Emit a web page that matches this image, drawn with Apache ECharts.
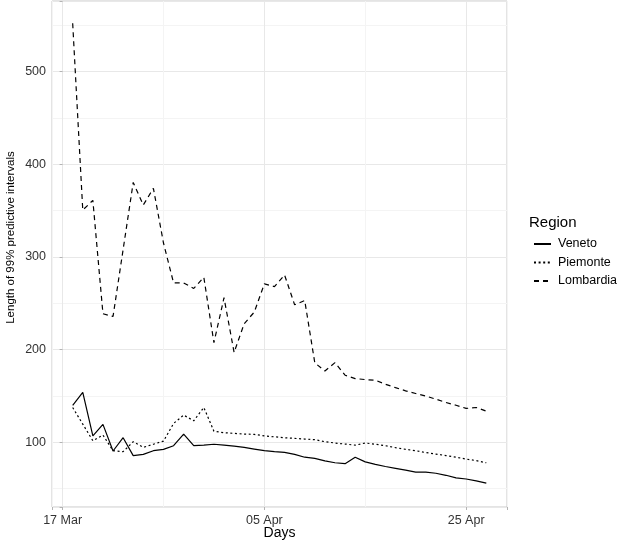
<!DOCTYPE html>
<html>
<head>
<meta charset="utf-8">
<script src="https://cdn.jsdelivr.net/npm/echarts@6/dist/echarts.min.js"></script>
<style>
  html, body { margin: 0; padding: 0; background: #fff; }
  #chart { width: 618px; height: 541px; }
</style>
</head>
<body>
<div id="chart"></div>
<script>
// day index since 16 Mar
const days = [1, 2, 3, 4, 5, 6, 7, 8, 9, 10, 11, 12, 13, 14, 15, 16, 17, 18, 19, 20, 21,
  22, 23, 24, 25, 26, 27, 28, 29, 30, 31, 32, 33, 34, 35, 36, 37, 38, 39, 40, 41, 42];

const veneto = [140, 153.8, 107, 119.4, 90.7, 105, 85.7, 87, 91, 92.5,
  96.4, 109, 96.4, 97, 98, 97, 96, 94.6, 92.8, 91,
  90, 89.2, 87, 84, 82.8, 80, 78, 77, 84, 79,
  76.3, 74, 72, 70, 68, 68, 66.7, 64.5, 61.7, 60.5,
  58.4, 56];

const piemonte = [137.6, 119.7, 101.8, 107.9, 91, 90, 100.7, 94.6, 98, 101.4,
  120.4, 129.4, 123.3, 137.6, 112, 110.4, 109.7, 109, 108.6, 107,
  106, 105, 104.3, 103.6, 102.9, 100.7, 99.3, 98.2, 97, 99.3,
  98, 96.4, 94.3, 92.5, 91, 89, 87.4, 85.7, 84, 82,
  80.3, 78];

const lombardia = [552, 350.5, 361, 238.7, 235.8, 308, 380.3, 356, 374, 315,
  272, 272, 266, 278, 207.5, 256, 197, 228, 240.5, 271,
  268, 280.6, 248.4, 253, 185.7, 177, 186, 172.4, 168.8, 167.7,
  167, 162.7, 159, 155.6, 152.7, 150, 146.6, 143, 140, 136.6,
  137.6, 133.7];

// x tick labels by day index
const xTickLabels = { 0: "17 Mar", 20: "05 Apr", 40: "25 Apr" };
const yTickLabels = [100, 200, 300, 400, 500];

const font = "Liberation Sans, Arial, sans-serif";
const xRange = [-1.05, 44.05];
const yRange = [30.3, 576];

const chart = echarts.init(document.getElementById("chart"));

const pair = (arr) => days.map((d, i) => [d, arr[i]]);

const lineSeries = (name, data, type) => ({
  name: name,
  type: "line",
  data: pair(data),
  symbol: "none",
  lineStyle: { color: "#000", width: 1.2, type: type },
  itemStyle: { color: "#000" },
  emphasis: { disabled: true },
  z: 3
});

// axes that only draw the small grey ticks at the major breaks
const tickOnly = {
  axisLine: { show: false },
  axisLabel: { show: false },
  splitLine: { show: false },
  axisTick: { show: true, length: 3, lineStyle: { color: "#b3b3b3" } }
};

chart.setOption({
  animation: false,
  backgroundColor: "#fff",
  grid: {
    left: 52, right: 111, top: 1, bottom: 34,
    show: true, borderColor: "#c8c8c8", borderWidth: 1,
    containLabel: false,
    outerBoundsMode: "none"
  },
  title: {
    text: "Region",
    left: 529, top: 215, padding: 0,
    textStyle: { fontFamily: font, fontSize: 15, fontWeight: "normal", color: "#000" }
  },
  legend: {
    orient: "vertical",
    left: 533, top: 237.5, padding: 0,
    itemWidth: 17, itemHeight: 10, itemGap: 5.5,
    itemStyle: { opacity: 0 },
    textStyle: { fontFamily: font, fontSize: 12.5, color: "#000", padding: [0, 0, 0, 2] },
    data: ["Veneto", "Piemonte", "Lombardia"]
  },
  xAxis: [{
    type: "value",
    min: xRange[0], max: xRange[1],
    splitNumber: 5,
    name: "Days",
    nameLocation: "middle",
    nameGap: 19,
    nameMoveOverlap: false,
    nameTextStyle: { fontFamily: font, fontSize: 14, color: "#000" },
    axisLine: { show: false },
    axisTick: { show: false },
    axisLabel: {
      margin: 7,
      fontFamily: font, fontSize: 12.5, color: "#333",
      showMinLabel: false, showMaxLabel: false,
      formatter: (v) => xTickLabels[v] || ""
    },
    splitLine: { show: true, lineStyle: { color: ["#f4f4f4", "#e8e8e8"], width: 1 } }
  }, Object.assign({
    type: "value", position: "bottom",
    min: xRange[0], max: xRange[1], splitNumber: 2
  }, tickOnly)],
  yAxis: [{
    type: "value",
    min: yRange[0], max: yRange[1],
    splitNumber: 11,
    name: "Length of 99% predictive intervals",
    nameLocation: "middle",
    nameGap: 35,
    nameMoveOverlap: false,
    nameTextStyle: { fontFamily: font, fontSize: 11.5, color: "#000", padding: [0, 0, 0, 33] },
    axisLine: { show: false },
    axisTick: { show: false },
    axisLabel: {
      margin: 6,
      fontFamily: font, fontSize: 12.5, color: "#333",
      showMinLabel: false, showMaxLabel: false,
      formatter: (v) => (yTickLabels.indexOf(v) >= 0 ? String(v) : "")
    },
    splitLine: { show: true, lineStyle: { color: ["#e8e8e8", "#f4f4f4"], width: 1 } }
  }, Object.assign({
    type: "value", position: "left",
    min: yRange[0], max: yRange[1], splitNumber: 5
  }, tickOnly)],
  series: [
    lineSeries("Veneto", veneto, "solid"),
    lineSeries("Piemonte", piemonte, [2, 2.6]),
    lineSeries("Lombardia", lombardia, [5, 4])
  ]
});
</script>
</body>
</html>
